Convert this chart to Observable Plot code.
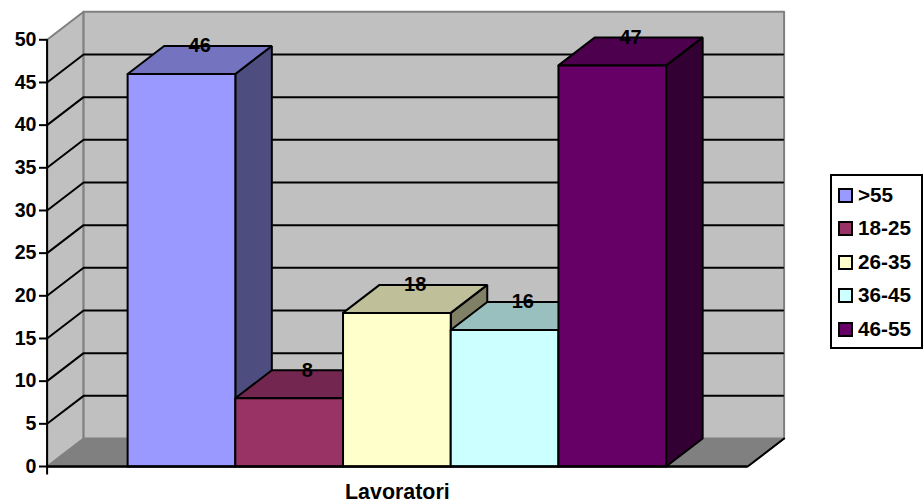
<!DOCTYPE html>
<html>
<head>
<meta charset="utf-8">
<script src="https://cdn.jsdelivr.net/npm/d3@7"></script>
<script src="https://cdn.jsdelivr.net/npm/@observablehq/plot@0.6"></script>
<style>
html,body{margin:0;padding:0;background:#fff;}
body{position:relative;width:924px;height:504px;overflow:hidden;font-family:"Liberation Sans",Arial,sans-serif;}
#chart svg{display:block;background:#fff;}
#legend{position:absolute;left:830px;top:174px;width:89px;height:171px;border:2px solid #000;box-sizing:content-box;background:#fff;}
.row{position:absolute;left:0;height:34px;display:flex;align-items:center;font-weight:bold;font-size:20.7px;color:#000;line-height:1;}
.sw{display:inline-block;width:11px;height:11px;border:2px solid #000;margin-left:6px;margin-right:5px;}
</style>
</head>
<body>
<div id="chart"></div>
<div id="legend"></div>
<script>
const categories = [">55", "18-25", "26-35", "36-45", "46-55"];
const values = [46, 8, 18, 16, 47];
const frontColors = ["#9999FF", "#993366", "#FFFFCC", "#CCFFFF", "#660066"];
const topColors = ["#7373BF", "#732650", "#BFBF99", "#99BFBF", "#4D004D"];
const sideColors = ["#4D4D80", "#4D1A33", "#808066", "#668080", "#330033"];
const yTicks = [0, 5, 10, 15, 20, 25, 30, 35, 40, 45, 50];
const gridValues = [5, 10, 15, 20, 25, 30, 35, 40, 45];
const xTitle = "Lavoratori";

// Depth of the 3D box, in data units of the two scales
const depthX = 0.339;
const depthY = 3.28;
const yMax = 50;
const xLeft = -0.7475;
const xRight = 6.095 - depthX;

function face(id, fill, pts) {
  return [...pts, pts[0]].map(([x, y]) => ({id, fill, x, y}));
}
const wallFaces = [
  ...face("floor", "#808080", [[xLeft, 0], [xLeft + depthX, depthY], [xRight + depthX, depthY], [xRight, 0]]),
  ...face("side", "#C0C0C0", [[xLeft, 0], [xLeft + depthX, depthY], [xLeft + depthX, yMax + depthY], [xLeft, yMax]]),
  ...face("back", "#C0C0C0", [[xLeft + depthX, depthY], [xRight + depthX, depthY], [xRight + depthX, yMax + depthY], [xLeft + depthX, yMax + depthY]])
];
const gridLines = gridValues.flatMap(v => [
  {id: v, x: xLeft, y: v},
  {id: v, x: xLeft + depthX, y: v + depthY},
  {id: v, x: xRight + depthX - 0.01, y: v + depthY}
]);
const barFaces = values.flatMap((v, i) => [
  ...face(`side${i}`, sideColors[i], [[i + 1, 0], [i + 1 + depthX, depthY], [i + 1 + depthX, v + depthY], [i + 1, v]]),
  ...face(`top${i}`, topColors[i], [[i, v], [i + depthX, v + depthY], [i + 1 + depthX, v + depthY], [i + 1, v]]),
  ...face(`front${i}`, frontColors[i], [[i, 0], [i + 1, 0], [i + 1, v], [i, v]])
]);
const labels = values.map((v, i) => ({x: i + 0.5 + depthX / 2, y: v + depthY, t: String(v)}));

const chart = Plot.plot({
  width: 924,
  height: 504,
  marginLeft: 47,
  marginRight: 140,
  marginTop: 11,
  marginBottom: 38,
  x: {type: "linear", domain: [xLeft, xRight + depthX], range: [46.6, 783.6], axis: null},
  y: {type: "linear", domain: [0, yMax + depthY], range: [466, 11.3], axis: null},
  color: {type: "identity"},
  style: {fontFamily: "'Liberation Sans', Arial, sans-serif", background: "#fff", overflow: "visible"},
  marks: [
    Plot.line(wallFaces, {x: "x", y: "y", z: "id", fill: "fill", stroke: "#808080", strokeWidth: 2, curve: "linear"}),
    Plot.line(gridLines, {x: "x", y: "y", z: "id", stroke: "#000", strokeWidth: 2, curve: "linear"}),
    Plot.line(barFaces, {x: "x", y: "y", z: "id", fill: "fill", stroke: "#000", strokeWidth: 2, strokeLinejoin: "miter", curve: "linear"}),
    Plot.ruleY([0], {x1: xLeft, x2: xRight, stroke: "#000", strokeWidth: 2.4}),
    Plot.line([{x: xRight, y: 0}, {x: xRight + depthX, y: depthY}], {x: "x", y: "y", stroke: "#000", strokeWidth: 2}),
    Plot.ruleX([xLeft], {y1: -1, y2: yMax, stroke: "#000", strokeWidth: 2}),
    Plot.axisY({ticks: yTicks, anchor: "left", tickSize: 8, tickPadding: 3, stroke: "#000", strokeWidth: 2, fontSize: 19.6, fontWeight: "bold", fill: "#000", label: null}),
    Plot.text(labels, {x: "x", y: "y", text: "t", fontSize: 20, fontWeight: "bold", fill: "#000"}),
    Plot.text([xTitle], {x: (xLeft + xRight) / 2, y: -3.05, text: d => d, fontSize: 21.4, fontWeight: "bold", fill: "#000"})
  ]
});
document.getElementById("chart").appendChild(chart);

const legend = document.getElementById("legend");
categories.forEach((c, i) => {
  const row = document.createElement("div");
  row.className = "row";
  row.style.top = (2 + i * 33.6) + "px";
  const sw = document.createElement("span");
  sw.className = "sw";
  sw.style.background = frontColors[i];
  row.appendChild(sw);
  row.appendChild(document.createTextNode(c));
  legend.appendChild(row);
});
</script>
</body>
</html>
